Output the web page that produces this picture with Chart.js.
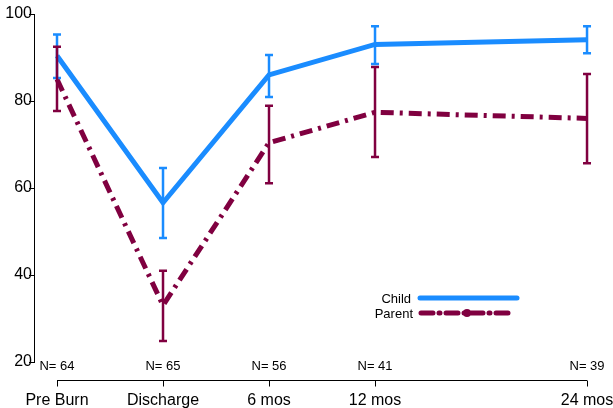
<!DOCTYPE html>
<html>
<head>
<meta charset="utf-8">
<script src="https://cdn.jsdelivr.net/npm/chart.js@4.4.0/dist/chart.umd.min.js"></script>
<style>
html,body{margin:0;padding:0;background:#fff;}
#wrap{width:613px;height:408px;}
</style>
</head>
<body>
<div id="wrap"><canvas id="myChart" width="613" height="408"></canvas></div>
<script>
// data
const categories = ['Pre Burn', 'Discharge', '6 mos', '12 mos', '24 mos'];
const timePos = [0, 1, 2, 3, 5];
const nLabels = ['N= 64', 'N= 65', 'N= 56', 'N= 41', 'N= 39'];
const childMean = [90.4, 56.6, 86.0, 93.0, 94.1];
const childLow = [85.3, 48.5, 80.9, 88.5, 91.0];
const childHigh = [95.3, 64.6, 90.6, 97.2, 97.2];
const parentMean = [85.0, 33.0, 70.4, 77.4, 76.0];
const parentLow = [77.7, 24.8, 61.1, 67.1, 65.7];
const parentHigh = [92.5, 41.0, 78.9, 87.8, 86.2];
const yTicks = [20, 40, 60, 80, 100];

const childColor = '#1a8cff';
const parentColor = '#800040';

const toPts = (vals) => vals.map((v, i) => ({ x: timePos[i], y: v }));

// error bars, x axis line, N= labels and legend
const extras = {
  id: 'extras',
  afterDatasetsDraw(chart) {
    const c = chart.ctx;
    const xs = chart.scales.x, ys = chart.scales.y;
    c.save();
    const bars = (low, high, color) => {
      c.strokeStyle = color;
      c.lineWidth = 2.5;
      for (let i = 0; i < timePos.length; i++) {
        const x = xs.getPixelForValue(timePos[i]);
        const y1 = ys.getPixelForValue(low[i]), y2 = ys.getPixelForValue(high[i]);
        c.beginPath();
        c.moveTo(x, y1); c.lineTo(x, y2);
        c.moveTo(x - 4, y1); c.lineTo(x + 4, y1);
        c.moveTo(x - 4, y2); c.lineTo(x + 4, y2);
        c.stroke();
      }
    };
    bars(childLow, childHigh, childColor);
    bars(parentLow, parentHigh, parentColor);

    // bottom axis
    const axY = 380.5;
    c.strokeStyle = '#000';
    c.lineWidth = 1;
    c.beginPath();
    c.moveTo(xs.getPixelForValue(timePos[0]), axY);
    c.lineTo(xs.getPixelForValue(timePos[timePos.length - 1]), axY);
    timePos.forEach(t => {
      const x = Math.round(xs.getPixelForValue(t)) + 0.5;
      c.moveTo(x, axY); c.lineTo(x, axY + 6);
    });
    c.stroke();

    c.fillStyle = '#000';
    c.font = '13px Arial, "Liberation Sans", sans-serif';
    c.textAlign = 'center';
    c.textBaseline = 'middle';
    nLabels.forEach((t, i) => c.fillText(t, xs.getPixelForValue(timePos[i]), 366));

    // legend
    c.font = '13px Arial, "Liberation Sans", sans-serif';
    c.textAlign = 'right';
    c.fillText('Child', 411, 299);
    c.fillText('Parent', 413, 314);
    c.lineCap = 'round';
    c.lineWidth = 5;
    c.strokeStyle = childColor;
    c.beginPath(); c.moveTo(420, 298); c.lineTo(517, 298); c.stroke();
    c.strokeStyle = parentColor;
    c.setLineDash([12, 6, 1, 6]);
    c.beginPath(); c.moveTo(421, 313); c.lineTo(514, 313); c.stroke();
    c.setLineDash([]);
    c.fillStyle = parentColor;
    c.beginPath(); c.arc(467, 313, 4, 0, Math.PI * 2); c.fill();
    c.restore();
  }
};

const ctx = document.getElementById('myChart').getContext('2d');
const myChart = new Chart(ctx, {
  type: 'line',
  data: {
    datasets: [
      {
        label: 'Child',
        data: toPts(childMean),
        borderColor: childColor,
        borderWidth: 5,
        pointRadius: 0,
        tension: 0,
        borderJoinStyle: 'miter'
      },
      {
        label: 'Parent',
        data: toPts(parentMean),
        borderColor: parentColor,
        borderWidth: 5,
        borderDash: [13, 6, 3, 6],
        pointRadius: 0,
        tension: 0
      }
    ]
  },
  plugins: [extras],
  options: {
    responsive: false,
    animation: false,
    layout: { padding: { top: 14, left: 0, right: 0, bottom: 0 } },
    plugins: { legend: { display: false }, tooltip: { enabled: false } },
    scales: {
      x: {
        type: 'linear',
        min: -0.217,
        max: 5.245,
        grid: { display: false },
        border: { display: false },
        afterBuildTicks: s => { s.ticks = timePos.map(v => ({ value: v })); },
        afterFit: s => { s.height = 46; s.paddingLeft = 0; s.paddingRight = 0; },
        ticks: {
          padding: 21,
          maxRotation: 0,
          autoSkip: false,
          color: '#000',
          font: { family: 'Arial, "Liberation Sans", sans-serif', size: 16 },
          callback: v => categories[timePos.indexOf(v)]
        }
      },
      y: {
        min: 20,
        max: 100,
        border: { display: true, color: '#000', width: 1 },
        grid: { drawOnChartArea: false, drawTicks: true, tickLength: 5, color: '#000' },
        afterBuildTicks: s => { s.ticks = yTicks.map(v => ({ value: v })); },
        afterFit: s => { s.width = 34; },
        ticks: {
          padding: -3,
          color: '#000',
          font: { family: 'Arial, "Liberation Sans", sans-serif', size: 16 }
        }
      }
    }
  }
});
</script>
</body>
</html>
